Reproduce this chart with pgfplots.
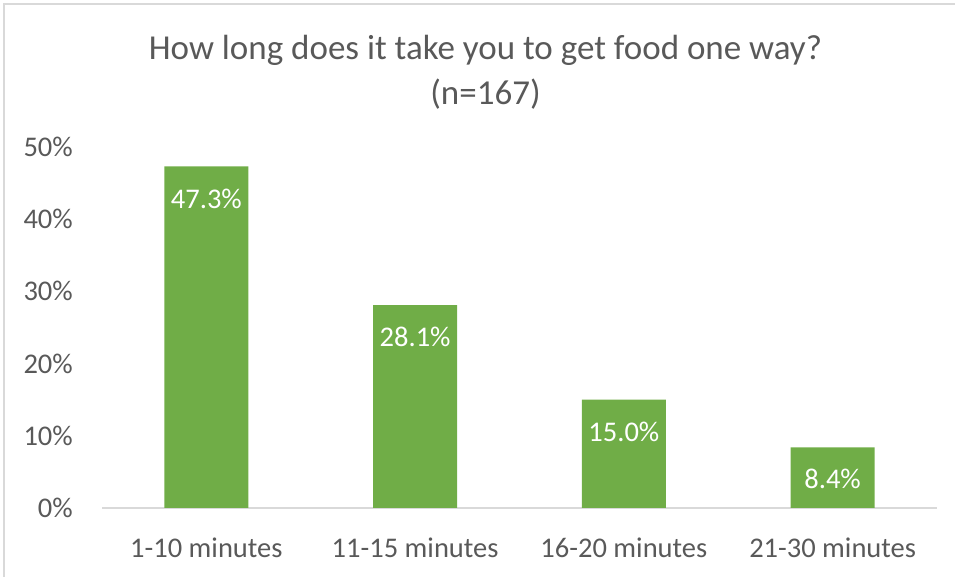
\documentclass[border=0pt]{standalone}
\usepackage{pgfplots}
\pgfplotsset{compat=1.18}
\usepackage{fontspec}
\setmainfont{Carlito}
\definecolor{txt}{HTML}{595959}
\definecolor{bargreen}{HTML}{70AD47}
\definecolor{linegray}{HTML}{D9D9D9}
\begin{document}
\begin{tikzpicture}[x=1bp,y=1bp]
\useasboundingbox (0,0) rectangle (955,577);
\draw[linegray, line width=1.5bp] (4,0) -- (4,573) -- (955,573);
\node[txt, font=\fontsize{35bp}{42bp}\selectfont, anchor=base] at (485.5,517) {How long does it take you to get food one way?};
\node[txt, font=\fontsize{35bp}{42bp}\selectfont, anchor=base] at (485.5,472) {(n=167)};
\begin{axis}[
  at={(102bp,69bp)}, anchor=south west,
  scale only axis, width=835bp, height=361bp,
  xmin=-0.5, xmax=3.5, ymin=0, ymax=50,
  ytick={0,10,20,30,40,50},
  yticklabel={\pgfmathprintnumber{\tick}\%},
  xtick={0,1,2,3},
  xticklabels={1-10 minutes,11-15 minutes,16-20 minutes,21-30 minutes},
  /pgf/number format/assume math mode=true,
  axis y line*=left,
  y axis line style={draw=none},
  axis x line*=bottom,
  x axis line style={linegray, line width=1.5bp, -},
  major tick length=0pt,
  tick style={draw=none},
  ticklabel style={txt, font=\fontsize{28.5bp}{34bp}\selectfont},
  yticklabel style={anchor=east, inner sep=0pt, xshift=-29bp},
  xticklabel style={anchor=center, inner sep=0pt, yshift=-40bp},
  ybar, bar width=84bp,
  nodes near coords={\pgfmathprintnumber[fixed,fixed zerofill,precision=1]{\pgfplotspointmeta}\%},
  every node near coord/.append style={white, font=\fontsize{28.5bp}{34bp}\selectfont, anchor=center, yshift=-32bp, /pgf/number format/assume math mode=true},
  clip=false,
]
\addplot[fill=bargreen, draw=none] coordinates {(0,47.3) (1,28.1) (2,15.0) (3,8.4)};
\end{axis}
\end{tikzpicture}
\end{document}
